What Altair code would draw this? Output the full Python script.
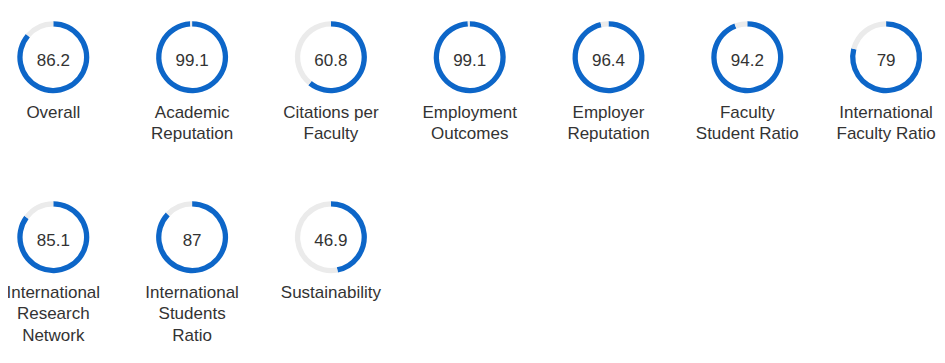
import altair as alt
import pandas as pd

labels = ["Overall", "Academic\nReputation", "Citations per\nFaculty", "Employment\nOutcomes",
          "Employer\nReputation", "Faculty\nStudent Ratio", "International\nFaculty Ratio",
          "International\nResearch\nNetwork", "International\nStudents\nRatio", "Sustainability"]
values = [86.2, 99.1, 60.8, 99.1, 96.4, 94.2, 79, 85.1, 87, 46.9]
value_text = ["86.2", "99.1", "60.8", "99.1", "96.4", "94.2", "79", "85.1", "87", "46.9"]
ncols = 7

rows = []
info = []
for i, (lab, v, vt) in enumerate(zip(labels, values, value_text)):
    c, r = i % ncols, i // ncols
    rows.append({"col": c, "row": r, "start": 0, "end": v, "part": "score"})
    rows.append({"col": c, "row": r, "start": v, "end": 100, "part": "rest"})
    info.append({"col": c, "row": r, "label": lab, "vt": vt})

arcs = pd.DataFrame(rows)
txt = pd.DataFrame(info)

X = alt.X("col:Q", scale=alt.Scale(domain=[0, 6], range=[45.3, 878.1], nice=False, zero=False), axis=None)
Y = alt.Y("row:Q", scale=alt.Scale(domain=[0, 1], range=[49.2, 229.2], nice=False, zero=False), axis=None)

ring = alt.Chart(arcs).mark_arc(innerRadius=30.7, outerRadius=36).encode(
    x=X, y=Y,
    theta=alt.Theta("start:Q", scale=alt.Scale(domain=[0, 100], range=[0, 6.2832])),
    theta2="end:Q",
    color=alt.Color("part:N", scale=alt.Scale(domain=["score", "rest"], range=["#0d66c8", "#ebebeb"]), legend=None),
)

val = alt.Chart(txt).mark_text(font="Liberation Sans", fontSize=17, color="#333333",
                               baseline="alphabetic", align="center", dy=8.3).encode(
    x=X, y=Y, text="vt:N")

lab = alt.Chart(txt).transform_calculate(lines="split(datum.label, '\\n')").mark_text(
    font="Liberation Sans", fontSize=17, color="#333333", baseline="alphabetic", align="center",
    dy=60.3, lineHeight=21.6).encode(x=X, y=Y, text="lines:N")

chart = alt.layer(ring, val, lab).properties(
    width=929, height=347, padding=0,
    autosize=alt.AutoSizeParams(type="none"),
).configure_view(stroke=None)
chart.save("out.html", embed_options={"renderer": "svg", "actions": False})
